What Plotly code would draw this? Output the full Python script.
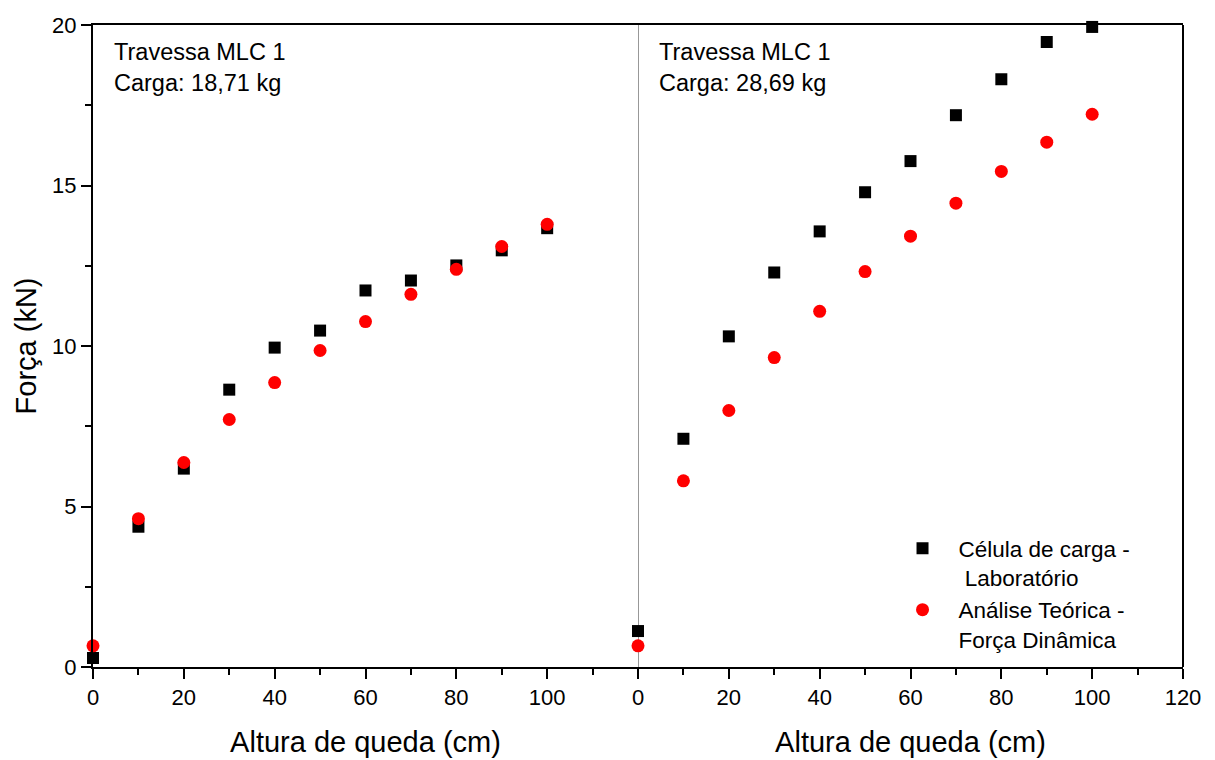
import plotly.graph_objects as go

# Drop height (cm) used in both tests
altura = [0, 10, 20, 30, 40, 50, 60, 70, 80, 90, 100]

# Beam MLC 1, load 18,71 kg
lab_1871 = [0.28, 4.37, 6.18, 8.64, 9.95, 10.48, 11.73, 12.04, 12.51, 12.98, 13.67]
teo_1871 = [0.66, 4.62, 6.37, 7.71, 8.86, 9.86, 10.76, 11.61, 12.39, 13.10, 13.79]

# Beam MLC 1, load 28,69 kg
lab_2869 = [1.12, 7.11, 10.30, 12.29, 13.57, 14.79, 15.76, 17.19, 18.31, 19.47, 19.94]
teo_2869 = [0.66, 5.80, 7.99, 9.64, 11.08, 12.32, 13.42, 14.45, 15.44, 16.35, 17.22]

panel_titles = ["Travessa MLC 1<br>Carga: 18,71 kg", "Travessa MLC 1<br>Carga: 28,69 kg"]
nome_lab = "Célula de carga -<br> Laboratório"
nome_teo = "Análise Teórica -<br>Força Dinâmica"
x_title = "Altura de queda (cm)"
y_title = "Força (kN)"

FONT = "Liberation Sans, Arial, sans-serif"
TICK_SIZE = 22
TITLE_SIZE = 29
TEXT_SIZE = 23.5
sq = dict(symbol="square", size=12, color="black")
ci = dict(symbol="circle", size=13, color="#ff0000")

fig = go.Figure()
fig.add_trace(go.Scatter(x=altura, y=lab_1871, mode="markers", marker=sq, name=nome_lab,
                         xaxis="x", yaxis="y", cliponaxis=False, legendgroup="lab"))
fig.add_trace(go.Scatter(x=altura, y=teo_1871, mode="markers", marker=ci, name=nome_teo,
                         xaxis="x", yaxis="y", cliponaxis=False, legendgroup="teo"))
fig.add_trace(go.Scatter(x=altura, y=lab_2869, mode="markers", marker=sq, name=nome_lab,
                         xaxis="x2", yaxis="y2", cliponaxis=False, showlegend=False, legendgroup="lab"))
fig.add_trace(go.Scatter(x=altura, y=teo_2869, mode="markers", marker=ci, name=nome_teo,
                         xaxis="x2", yaxis="y2", cliponaxis=False, showlegend=False, legendgroup="teo"))

xcommon = dict(range=[0, 120], showline=True, linecolor="black", linewidth=2,
               ticks="outside", ticklen=10, tickwidth=2, tickcolor="black",
               minor=dict(dtick=10, ticks="outside", ticklen=6, tickwidth=2, tickcolor="black"),
               showgrid=False, zeroline=False, mirror=True, automargin=False,
               tickfont=dict(size=TICK_SIZE, color="black", family=FONT),
               title=dict(text=x_title, font=dict(size=TITLE_SIZE, color="black", family=FONT),
                          standoff=22))

fig.update_layout(
    width=1215, height=760,
    margin=dict(l=93, r=32, t=25, b=93),
    paper_bgcolor="white", plot_bgcolor="white",
    font=dict(family=FONT, color="black"),
    xaxis=dict(domain=[0, 0.5], tickvals=[0, 20, 40, 60, 80, 100], anchor="y", **xcommon),
    xaxis2=dict(domain=[0.5, 1], tickvals=[0, 20, 40, 60, 80, 100, 120], anchor="y2", **xcommon),
    yaxis=dict(range=[0, 20], tickvals=[0, 5, 10, 15, 20], showline=True, linecolor="black",
               linewidth=2, ticks="outside", ticklen=10, tickwidth=2, tickcolor="black",
               minor=dict(dtick=2.5, ticks="outside", ticklen=6, tickwidth=2, tickcolor="black"),
               showgrid=False, zeroline=False, anchor="x", automargin=False,
               tickfont=dict(size=TICK_SIZE, color="black", family=FONT),
               title=dict(text=y_title, font=dict(size=TITLE_SIZE, color="black", family=FONT),
                          standoff=7)),
    yaxis2=dict(range=[0, 20], matches="y", anchor="x2", showticklabels=False, ticks="",
                showline=False, showgrid=False, zeroline=False),
    legend=dict(x=0.728, y=0.218, xanchor="left", yanchor="top", bgcolor="rgba(0,0,0,0)",
                font=dict(size=22.5, color="black", family=FONT), itemwidth=62,
                tracegroupgap=0, valign="top"),
    showlegend=True,
    shapes=[
        # divider between the two tests
        dict(type="line", xref="x2", yref="y2", x0=0, x1=0, y0=0, y1=20,
             line=dict(color="#333333", width=1), layer="below"),
        # right frame edge
        dict(type="line", xref="paper", yref="paper", x0=1, x1=1, y0=0, y1=1,
             line=dict(color="black", width=2)),
    ],
    annotations=[
        dict(text=panel_titles[0], xref="x domain", yref="y domain", x=0.035, y=0.981,
             xanchor="left", yanchor="top", showarrow=False, align="left",
             font=dict(size=TEXT_SIZE, color="black", family=FONT)),
        dict(text=panel_titles[1], xref="x2 domain", yref="y2 domain", x=0.035, y=0.981,
             xanchor="left", yanchor="top", showarrow=False, align="left",
             font=dict(size=TEXT_SIZE, color="black", family=FONT)),
    ],
)

fig.write_html("out.html")
